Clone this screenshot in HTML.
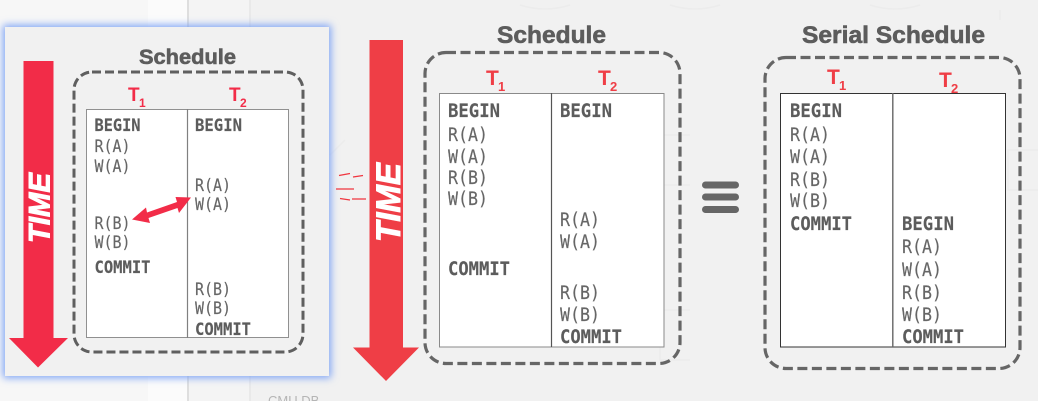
<!DOCTYPE html>
<html><head><meta charset="utf-8"><style>
html,body{margin:0;padding:0;background:#f1f1f1;width:1038px;height:401px;overflow:hidden}
svg{display:block}
.m{font-family:"DejaVu Sans Mono","Liberation Mono",monospace;font-size:18.500px;fill:#666;stroke:#666;stroke-width:.15;transform:translateY(.8px)}
.s{font-size:16.500px}
.b{font-weight:bold;fill:#5c5c5c;stroke:#5c5c5c}
.t{font-family:"Liberation Sans",sans-serif;font-weight:bold;fill:#5c5c5c;stroke:#5c5c5c;stroke-width:.6}
.r{font-family:"Liberation Sans",sans-serif;font-weight:bold;fill:#ef3e46}
.i{font-family:"Liberation Sans",sans-serif;font-weight:bold;font-style:italic;fill:#fff;stroke:#fff;stroke-width:1}
</style></head><body>
<svg width="1038" height="401" viewBox="0 0 1038 401" xmlns="http://www.w3.org/2000/svg">
<defs><filter id="g" x="-10%" y="-10%" width="120%" height="120%"><feGaussianBlur stdDeviation="4"/></filter></defs>
<rect width="1038" height="401" fill="#f1f1f1"/>
<rect x="0" width="148" height="401" fill="#f7f7f7"/>
<rect x="148" width="39" height="401" fill="#fbfbfb"/>
<rect x="187" width="2" height="401" fill="#dedede"/>
<rect x="189" width="60" height="401" fill="#f4f4f4"/>
<rect x="249" width="2" height="401" fill="#e9e9e9"/>
<g fill="none" stroke="#ececec" stroke-width="1.500">
<path d="M252 140h18M252 300h18M345 140l-15 15M1000 20v-10M520 5q25 8 50 0M670 5q25 8 50 0M870 5q25 8 50 0M1038 150h-30v40h30M690 135h-30v50h30M690 310h-30v50h30"/>
</g>
<text x="268" y="405" font-family="Liberation Sans,sans-serif" font-size="13" fill="#b5b5b5">CMU DB</text>
<rect x="3" y="25" width="328" height="353" fill="#7fa4f5" filter="url(#g)"/>
<rect x="5" y="27" width="324" height="349" fill="#f1f1f1"/>

<path d="M23.500 61H53.500V338H68L38 367.500 9 338H23.500Z" fill="#f22c48"/>
<text class="i" transform="translate(49.500 243) rotate(-90)" font-size="30" textLength="70" lengthAdjust="spacingAndGlyphs">TIME</text>
<text class="t" x="139" y="64" font-size="21.500" textLength="97" lengthAdjust="spacingAndGlyphs">Schedule</text>
<rect x="74" y="72" width="229" height="280" rx="18" fill="none" stroke="#5f5f5f" stroke-width="3" stroke-dasharray="9 4"/>
<text class="r" style="fill:#f22c48" x="128" y="101" font-size="19">T</text><text class="r" style="fill:#f22c48" x="139" y="107" font-size="12">1</text>
<text class="r" style="fill:#f22c48" x="229" y="101" font-size="19">T</text><text class="r" style="fill:#f22c48" x="240" y="107" font-size="12">2</text>
<rect x="86.500" y="109.500" width="202" height="228" fill="#fff" stroke="#909090" stroke-width="1"/>
<path d="M187.500 109V338" stroke="#808080" stroke-width="1.200"/>
<text class="m s b" x="94.500" y="130" textLength="46" lengthAdjust="spacingAndGlyphs">BEGIN</text>
<text class="m s" x="94.500" y="151" textLength="36" lengthAdjust="spacingAndGlyphs">R(A)</text>
<text class="m s" x="94.500" y="171" textLength="36" lengthAdjust="spacingAndGlyphs">W(A)</text>
<text class="m s" x="94.500" y="228" textLength="36" lengthAdjust="spacingAndGlyphs">R(B)</text>
<text class="m s" x="94.500" y="247" textLength="36" lengthAdjust="spacingAndGlyphs">W(B)</text>
<text class="m s b" x="94.500" y="272" textLength="56" lengthAdjust="spacingAndGlyphs">COMMIT</text>
<text class="m s b" x="195" y="130" textLength="47" lengthAdjust="spacingAndGlyphs">BEGIN</text>
<text class="m s" x="195" y="190" textLength="36" lengthAdjust="spacingAndGlyphs">R(A)</text>
<text class="m s" x="195" y="209" textLength="36" lengthAdjust="spacingAndGlyphs">W(A)</text>
<text class="m s" x="195" y="294" textLength="36" lengthAdjust="spacingAndGlyphs">R(B)</text>
<text class="m s" x="195" y="313" textLength="36" lengthAdjust="spacingAndGlyphs">W(B)</text>
<text class="m s b" x="195" y="334" textLength="56" lengthAdjust="spacingAndGlyphs">COMMIT</text>
<path d="M132 219.500L146 207.500L147 212.500L177 202L175.500 197L191 197.500L179 213L177.500 208L148.500 218L150 223Z" fill="#f22c48"/>

<g stroke="#f0353f" stroke-width="1.300" fill="none">
<path d="M339 175.500L350 173.500M353 177L363 175.500M336 189H354M340 198.500L350 200M352 199H366"/>
</g>

<path d="M369.500 40H403V347.500H419L386 381 353 347.500H369.500Z" fill="#ef3e46"/>
<text class="i" transform="translate(400 242) rotate(-90)" font-size="34.500" textLength="79" lengthAdjust="spacingAndGlyphs">TIME</text>
<text class="t" x="497" y="43" font-size="24" textLength="109" lengthAdjust="spacingAndGlyphs">Schedule</text>
<rect x="425" y="52.500" width="255" height="311" rx="21" fill="none" stroke="#666" stroke-width="3.200" stroke-dasharray="10 4.500"/>
<text class="r" x="486" y="85" font-size="21">T</text><text class="r" x="498" y="91" font-size="13">1</text>
<text class="r" x="598" y="85" font-size="21">T</text><text class="r" x="610" y="91" font-size="13">2</text>
<rect x="439.500" y="93.500" width="224.500" height="253.500" fill="#fff" stroke="#8a8a8a" stroke-width="1"/>
<path d="M551.500 93V347" stroke="#555" stroke-width="1.200"/>
<text class="m b" x="448" y="116" textLength="52" lengthAdjust="spacingAndGlyphs">BEGIN</text>
<text class="m" x="448" y="140" textLength="40" lengthAdjust="spacingAndGlyphs">R(A)</text>
<text class="m" x="448" y="162" textLength="40" lengthAdjust="spacingAndGlyphs">W(A)</text>
<text class="m" x="448" y="183" textLength="40" lengthAdjust="spacingAndGlyphs">R(B)</text>
<text class="m" x="448" y="204" textLength="40" lengthAdjust="spacingAndGlyphs">W(B)</text>
<text class="m b" x="448" y="274" textLength="62" lengthAdjust="spacingAndGlyphs">COMMIT</text>
<text class="m b" x="560" y="116" textLength="52" lengthAdjust="spacingAndGlyphs">BEGIN</text>
<text class="m" x="560" y="225" textLength="40" lengthAdjust="spacingAndGlyphs">R(A)</text>
<text class="m" x="560" y="247" textLength="40" lengthAdjust="spacingAndGlyphs">W(A)</text>
<text class="m" x="560" y="298" textLength="40" lengthAdjust="spacingAndGlyphs">R(B)</text>
<text class="m" x="560" y="320" textLength="40" lengthAdjust="spacingAndGlyphs">W(B)</text>
<text class="m b" x="560" y="342" textLength="62" lengthAdjust="spacingAndGlyphs">COMMIT</text>

<rect x="702" y="181.500" width="37" height="7" rx="3.500" fill="#666"/>
<rect x="702" y="193.500" width="37" height="7" rx="3.500" fill="#666"/>
<rect x="702" y="206" width="37" height="7" rx="3.500" fill="#666"/>

<text class="t" x="802" y="43" font-size="24" textLength="183" lengthAdjust="spacingAndGlyphs">Serial Schedule</text>
<rect x="765" y="57.500" width="255" height="311" rx="21" fill="none" stroke="#666" stroke-width="3.200" stroke-dasharray="10 4.500"/>
<text class="r" x="827" y="84" font-size="21">T</text><text class="r" x="839" y="90" font-size="13">1</text>
<text class="r" x="939" y="87" font-size="21">T</text><text class="r" x="951" y="93" font-size="13">2</text>
<rect x="780.500" y="93.500" width="225" height="253.500" fill="#fff" stroke="#333" stroke-width="1"/>
<path d="M892.800 93V347" stroke="#666" stroke-width="1.400"/>
<text class="m b" x="790" y="116" textLength="52" lengthAdjust="spacingAndGlyphs">BEGIN</text>
<text class="m" x="790" y="140" textLength="40" lengthAdjust="spacingAndGlyphs">R(A)</text>
<text class="m" x="790" y="162" textLength="40" lengthAdjust="spacingAndGlyphs">W(A)</text>
<text class="m" x="790" y="185" textLength="40" lengthAdjust="spacingAndGlyphs">R(B)</text>
<text class="m" x="790" y="206" textLength="40" lengthAdjust="spacingAndGlyphs">W(B)</text>
<text class="m b" x="790" y="229" textLength="62" lengthAdjust="spacingAndGlyphs">COMMIT</text>
<text class="m b" x="902" y="229" textLength="52" lengthAdjust="spacingAndGlyphs">BEGIN</text>
<text class="m" x="902" y="252" textLength="40" lengthAdjust="spacingAndGlyphs">R(A)</text>
<text class="m" x="902" y="275" textLength="40" lengthAdjust="spacingAndGlyphs">W(A)</text>
<text class="m" x="902" y="298" textLength="40" lengthAdjust="spacingAndGlyphs">R(B)</text>
<text class="m" x="902" y="320" textLength="40" lengthAdjust="spacingAndGlyphs">W(B)</text>
<text class="m b" x="902" y="342" textLength="62" lengthAdjust="spacingAndGlyphs">COMMIT</text>
</svg>
</body></html>
